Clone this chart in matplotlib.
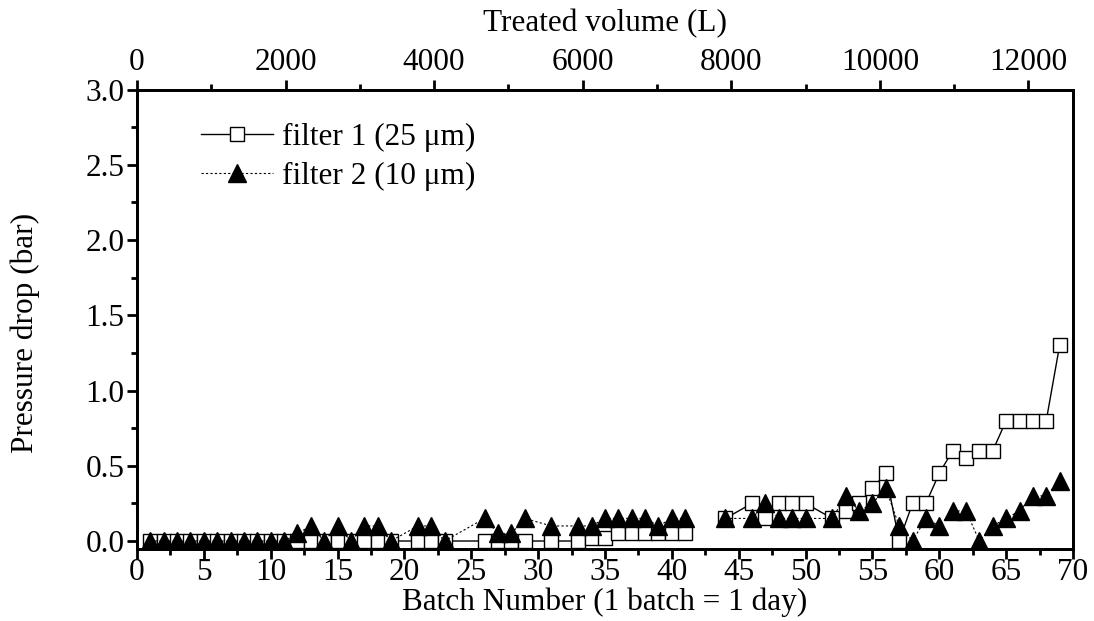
import numpy as np
import matplotlib
matplotlib.use("Agg")
import matplotlib.pyplot as plt
from matplotlib.ticker import MultipleLocator

plt.rcParams['font.family'] = ['Liberation Serif', 'DejaVu Serif']

# Batch numbers (42 = break in the data)
batches = [1, 2, 3, 4, 5, 6, 7, 8, 9, 10, 11, 12, 13, 14, 15, 16, 17, 18, 19,
           21, 22, 23, 26, 27, 28, 29, 31, 33, 34, 35, 36, 37, 38, 39, 40, 41,
           42, 44, 46, 47, 48, 49, 50, 52, 53, 54, 55, 56, 57, 58, 59, 60, 61,
           62, 63, 64, 65, 66, 67, 68, 69]

filter1 = [0, 0, 0, 0, 0, 0, 0, 0, 0, 0, 0, 0, 0, 0, 0, 0, 0, 0, 0,
           0, 0, 0, 0, 0, 0, 0, 0, 0, 0.02, 0.02, 0.05, 0.05, 0.05, 0.05, 0.05, 0.05,
           np.nan, 0.15, 0.25, 0.15, 0.25, 0.25, 0.25, 0.15, 0.2, 0.25, 0.35, 0.45, 0.0, 0.25, 0.25, 0.45, 0.6,
           0.55, 0.6, 0.6, 0.8, 0.8, 0.8, 0.8, 1.3]

filter2 = [0, 0, 0, 0, 0, 0, 0, 0, 0, 0, 0, 0.05, 0.1, 0, 0.1, 0, 0.1, 0.1, 0,
           0.1, 0.1, 0, 0.15, 0.05, 0.05, 0.15, 0.1, 0.1, 0.1, 0.15, 0.15, 0.15, 0.15, 0.1, 0.15, 0.15,
           np.nan, 0.15, 0.15, 0.25, 0.15, 0.15, 0.15, 0.15, 0.3, 0.2, 0.25, 0.35, 0.1, 0.0, 0.15, 0.1, 0.2,
           0.2, 0.0, 0.1, 0.15, 0.2, 0.3, 0.3, 0.4]

labels = ["filter 1 (25 \u03bcm)", "filter 2 (10 \u03bcm)"]
litres_per_batch = 180

FS = 22.5
fig = plt.figure(figsize=(10.94, 6.21), dpi=100)
ax = fig.add_axes([0.1252, 0.1167, 0.8556, 0.7391])

ax.plot(batches, filter1, color='black', linestyle='-', linewidth=1.0,
        marker='s', markersize=9.4, markerfacecolor='white',
        markeredgecolor='black', markeredgewidth=1.0, label=labels[0], zorder=2)
ax.plot(batches, filter2, color='black', linestyle=(0, (2, 2)), linewidth=0.8,
        marker='^', markersize=13.5, markerfacecolor='black',
        markeredgecolor='black', label=labels[1], zorder=3)

ax.set_xlim(0, 70)
ax.set_ylim(-0.05, 3.0)
ax.xaxis.set_major_locator(MultipleLocator(5))
ax.xaxis.set_minor_locator(MultipleLocator(2.5))
ax.yaxis.set_major_locator(MultipleLocator(0.5))
ax.yaxis.set_minor_locator(MultipleLocator(0.25))
ax.yaxis.set_major_formatter(matplotlib.ticker.FormatStrFormatter('%.1f'))

for sp in ax.spines.values():
    sp.set_linewidth(2)

ax.tick_params(axis='both', which='major', direction='out', length=7, width=2,
               labelsize=FS, pad=2)
ax.tick_params(axis='x', which='major', pad=0)
ax.tick_params(axis='both', which='minor', direction='out', length=4, width=2)
ax.tick_params(right=False, which='both')

ax.set_xlabel("Batch Number (1 batch = 1 day)", fontsize=FS, labelpad=0)
ax.set_ylabel("Pressure drop (bar)", fontsize=FS)
ax.yaxis.set_label_coords(-0.104, 0.47)

ax2 = ax.twiny()
ax2.set_xlim(0, 70 * litres_per_batch)
ax2.xaxis.set_major_locator(MultipleLocator(2000))
ax2.xaxis.set_minor_locator(MultipleLocator(1000))
ax2.tick_params(axis='x', which='major', direction='out', length=7, width=2,
                labelsize=FS, pad=2)
ax2.tick_params(axis='x', which='minor', direction='out', length=4, width=2)
ax2.set_xlabel("Treated volume (L)", fontsize=FS, labelpad=12)
for sp in ax2.spines.values():
    sp.set_linewidth(2)

leg = ax.legend(loc='upper left', bbox_to_anchor=(0.055, 0.955), frameon=False,
                fontsize=FS, handlelength=2.3, handletextpad=0.3,
                labelspacing=0.33, borderaxespad=0)
for h in leg.legend_handles:
    h.set_markersize(9.4 if h.get_marker() == 's' else 13)

fig.savefig("out.png", dpi=100)
